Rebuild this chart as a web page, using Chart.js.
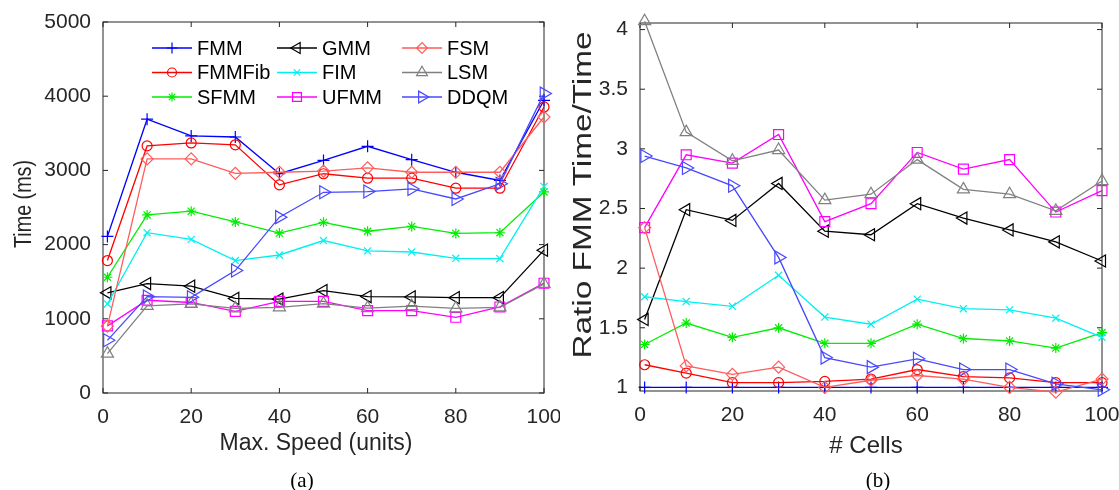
<!DOCTYPE html>
<html>
<head>
<meta charset="utf-8">
<script src="https://cdn.jsdelivr.net/npm/chart.js"></script>
<style>
body{margin:0;background:#fff;width:1119px;height:490px;overflow:hidden;position:relative}
canvas{position:absolute;top:0}
#left{left:0}
#right{left:560px}
</style>
</head>
<body>
<canvas id="left" width="560" height="490"></canvas>
<canvas id="right" width="559" height="490"></canvas>
<script>
// x values (same for both plots)
const xSpeed = [1, 10, 20, 30, 40, 50, 60, 70, 80, 90, 100];
const xCells = [1, 10, 20, 30, 40, 50, 60, 70, 80, 90, 100];
const xTicks = [0, 20, 40, 60, 80, 100];
const leftYTicks = [0, 1000, 2000, 3000, 4000, 5000];
const rightYTicks = [1, 1.5, 2, 2.5, 3, 3.5, 4];

// (a) time in ms vs max speed
const timeFMM    = [2110, 3690, 3465, 3450, 2955, 3135, 3325, 3145, 2975, 2865, 3945];
const timeFMMFib = [1785, 3330, 3370, 3345, 2805, 2955, 2895, 2895, 2760, 2760, 3855];
const timeSFMM   = [1560, 2400, 2450, 2305, 2155, 2300, 2180, 2245, 2150, 2160, 2710];
const timeGMM    = [1350, 1475, 1440, 1275, 1265, 1380, 1300, 1295, 1285, 1285, 1925];
const timeFIM    = [1200, 2160, 2070, 1785, 1860, 2055, 1915, 1900, 1815, 1810, 2785];
const timeUFMM   = [905, 1250, 1220, 1100, 1235, 1235, 1110, 1110, 1020, 1160, 1480];
const timeFSM    = [900, 3155, 3155, 2960, 2975, 2990, 3035, 2975, 2975, 2975, 3720];
const timeLSM    = [530, 1175, 1200, 1140, 1155, 1205, 1145, 1170, 1140, 1155, 1470];
const timeDDQM   = [710, 1300, 1290, 1650, 2370, 2705, 2715, 2750, 2615, 2820, 4035];

// (b) ratio FMM time / time vs # cells
const ratioFMM    = [1, 1, 1, 1, 1, 1, 1, 1, 1, 1, 1];
const ratioFMMFib = [1.19, 1.12, 1.04, 1.04, 1.05, 1.07, 1.15, 1.09, 1.08, 1.04, 1.04];
const ratioSFMM   = [1.36, 1.54, 1.42, 1.50, 1.37, 1.37, 1.53, 1.41, 1.39, 1.33, 1.46];
const ratioGMM    = [1.57, 2.49, 2.40, 2.71, 2.31, 2.28, 2.54, 2.42, 2.32, 2.22, 2.06];
const ratioFIM    = [1.76, 1.72, 1.68, 1.94, 1.59, 1.53, 1.74, 1.66, 1.65, 1.58, 1.42];
const ratioUFMM   = [2.34, 2.95, 2.88, 3.12, 2.39, 2.54, 2.97, 2.83, 2.91, 2.47, 2.65];
const ratioFSM    = [2.34, 1.18, 1.11, 1.17, 1.00, 1.06, 1.10, 1.07, 1.00, 0.96, 1.07];
const ratioLSM    = [4.07, 3.14, 2.90, 2.99, 2.57, 2.62, 2.91, 2.66, 2.62, 2.48, 2.73];
const ratioDDQM   = [2.94, 2.84, 2.69, 2.09, 1.25, 1.17, 1.24, 1.15, 1.15, 1.03, 0.98];

const methods = ['FMM', 'FMMFib', 'SFMM', 'GMM', 'FIM', 'UFMM', 'FSM', 'LSM', 'DDQM'];
const timeData  = [timeFMM, timeFMMFib, timeSFMM, timeGMM, timeFIM, timeUFMM, timeFSM, timeLSM, timeDDQM];
const ratioData = [ratioFMM, ratioFMMFib, ratioSFMM, ratioGMM, ratioFIM, ratioUFMM, ratioFSM, ratioLSM, ratioDDQM];

// style de chaque courbe
const styles = [
  {color: '#0000ff', shape: 'cross',    rot: 0,   r: 6},
  {color: '#ff0000', shape: 'circle',   rot: 0,   r: 5},
  {color: '#00ee00', shape: 'star',     rot: 0,   r: 5},
  {color: '#000000', shape: 'triangle', rot: -90, r: 7},
  {color: '#00f0f0', shape: 'crossRot', rot: 0,   r: 5},
  {color: '#ff00ff', shape: 'rect',     rot: 0,   r: 7},
  {color: '#ff5c5c', shape: 'rectRot',  rot: 0,   r: 6},
  {color: '#808080', shape: 'triangle', rot: 0,   r: 7},
  {color: '#4848ff', shape: 'triangle', rot: 90,  r: 7.5}
];

const font = '"Liberation Sans", Arial, sans-serif';
const ink = '#262626';

function makeSets(xs, series) {
  return series.map(function(vals, i) {
    const s = styles[i];
    return {
      label: methods[i],
      data: xs.map(function(x, k) { return {x: x, y: vals[k]}; }),
      borderColor: s.color,
      backgroundColor: 'rgba(0,0,0,0)',
      borderWidth: 1.3,
      pointStyle: s.shape,
      pointRotation: s.rot,
      pointRadius: s.r,
      pointBorderWidth: 1.2,
      pointBackgroundColor: 'rgba(0,0,0,0)',
      pointBorderColor: s.color,
      tension: 0,
      clip: false,
      order: methods.length - i
    };
  });
}

// cadre + graduations vers l'intérieur (style matlab)
const boxPlugin = {
  id: 'box',
  beforeDatasetsDraw(chart) {
    const ctx = chart.ctx, a = chart.chartArea;
    const x = chart.scales.x, y = chart.scales.y;
    ctx.save();
    ctx.strokeStyle = ink;
    ctx.lineWidth = 1;
    ctx.strokeRect(a.left, a.top, a.right - a.left, a.bottom - a.top);
    ctx.beginPath();
    x.ticks.forEach(function(t) {
      const px = x.getPixelForValue(t.value);
      ctx.moveTo(px, a.bottom); ctx.lineTo(px, a.bottom - 5);
      ctx.moveTo(px, a.top); ctx.lineTo(px, a.top + 5);
    });
    y.ticks.forEach(function(t) {
      const py = y.getPixelForValue(t.value);
      ctx.moveTo(a.left, py); ctx.lineTo(a.left + 5, py);
      ctx.moveTo(a.right, py); ctx.lineTo(a.right - 5, py);
    });
    ctx.stroke();
    ctx.restore();
  }
};

// titres des axes et légendes (a)/(b)
function makeLabels(items) {
  return {
    id: 'labels',
    afterDraw(chart) {
      const ctx = chart.ctx;
      items.forEach(function(it) {
        ctx.save();
        ctx.translate(it.x, it.y);
        if (it.rotate) ctx.rotate(-Math.PI / 2);
        ctx.font = it.size + 'px ' + (it.family || font);
        if (it.length) ctx.scale(it.length / ctx.measureText(it.text).width, 1);
        ctx.textAlign = 'center';
        ctx.textBaseline = 'alphabetic';
        ctx.fillStyle = it.color || ink;
        ctx.fillText(it.text, 0, 0);
        ctx.restore();
      });
    }
  };
}

// légende sur 3 colonnes
const legendPlugin = {
  id: 'matLegend',
  afterDatasetsDraw(chart) {
    const ctx = chart.ctx;
    chart.data.datasets.forEach(function(ds, i) {
      const col = Math.floor(i / 3), row = i % 3;
      const x0 = 152 + col * 125, y0 = 48 + row * 24.5;
      ctx.save();
      ctx.strokeStyle = ds.borderColor;
      ctx.lineWidth = ds.borderWidth;
      ctx.beginPath();
      ctx.moveTo(x0, y0); ctx.lineTo(x0 + 40, y0);
      ctx.stroke();
      ctx.fillStyle = 'rgba(0,0,0,0)';
      ctx.lineWidth = ds.pointBorderWidth;
      Chart.helpers.drawPoint(ctx, {
        pointStyle: ds.pointStyle, rotation: ds.pointRotation,
        radius: ds.pointRadius * 0.9, borderWidth: ds.pointBorderWidth
      }, x0 + 20, y0);
      ctx.fillStyle = '#000';
      ctx.font = '20px ' + font;
      ctx.textBaseline = 'middle';
      ctx.textAlign = 'left';
      ctx.fillText(ds.label, x0 + 45, y0 + 1);
      ctx.restore();
    });
  }
};

function axisOpts(min, max, ticks, labels, fit) {
  return {
    type: 'linear', min: min, max: max,
    afterBuildTicks: function(s) { s.ticks = ticks.map(function(v) { return {value: v}; }); },
    afterFit: function(s) {
      fit(s);
      s.paddingLeft = 0; s.paddingRight = 0; s.paddingTop = 0; s.paddingBottom = 0;
    },
    grid: {display: false},
    border: {display: false},
    ticks: {
      font: {size: 21, family: font}, color: ink, padding: 4, maxRotation: 0, autoSkip: false,
      callback: function(v, i) { return labels[i]; }
    }
  };
}

new Chart(document.getElementById('left'), {
  type: 'line',
  data: {datasets: makeSets(xSpeed, timeData)},
  options: {
    responsive: false, animation: false,
    layout: {padding: {left: 0, top: 22, right: 16, bottom: 0}},
    plugins: {legend: {display: false}, tooltip: {enabled: false}},
    scales: {
      x: axisOpts(0, 100, xTicks, xTicks.map(String), function(s) { s.height = 97; }),
      y: axisOpts(0, 5000, leftYTicks, leftYTicks.map(String), function(s) { s.width = 103; })
    }
  },
  plugins: [boxPlugin, legendPlugin, makeLabels([
    {text: 'Max. Speed (units)', x: 316, y: 450, size: 23},
    {text: 'Time (ms)', x: 31, y: 204, size: 23, rotate: true, length: 88},
    {text: '(a)', x: 302, y: 487, size: 21, family: '"Liberation Serif", "Times New Roman", serif', color: '#000'}
  ])]
});

new Chart(document.getElementById('right'), {
  type: 'line',
  data: {datasets: makeSets(xCells, ratioData)},
  options: {
    responsive: false, animation: false,
    layout: {padding: {left: 0, top: 23, right: 17, bottom: 0}},
    plugins: {legend: {display: false}, tooltip: {enabled: false}},
    scales: {
      x: axisOpts(0, 100, xTicks, xTicks.map(String), function(s) { s.height = 99; }),
      y: axisOpts(0.97, 4.055, rightYTicks, rightYTicks.map(String), function(s) { s.width = 80; })
    }
  },
  plugins: [boxPlugin, makeLabels([
    {text: '# Cells', x: 306, y: 453, size: 24},
    {text: 'Ratio FMM Time/Time', x: 31, y: 195, size: 25, rotate: true, length: 327},
    {text: '(b)', x: 318, y: 487, size: 21, family: '"Liberation Serif", "Times New Roman", serif', color: '#000'}
  ])]
});
</script>
</body>
</html>
